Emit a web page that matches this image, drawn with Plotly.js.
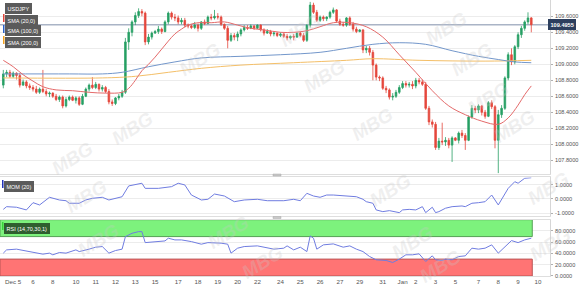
<!DOCTYPE html>
<html>
<head>
<meta charset="utf-8">
<script src="https://cdn.plot.ly/plotly-3.0.1.min.js"></script>
<style>
  html, body { margin: 0; padding: 0; background: #ffffff; }
  #chart { width: 580px; height: 288px; }
</style>
</head>
<body>
<div id="chart"></div>
<script>
// USD/JPY 4-hour candles, 4 Dec 2019 – 9 Jan 2020
const symbol = 'USDJPY';
const open = [108.74,108.88,108.90,108.85,108.89,108.86,108.74,108.78,108.73,108.71,
  108.69,108.65,108.69,108.66,108.63,108.64,108.60,108.56,108.59,108.48,
  108.56,108.59,108.55,108.58,108.50,108.60,108.69,108.74,108.71,108.75,
  108.69,108.71,108.66,108.53,108.51,108.58,108.60,108.65,109.28,109.40,
  109.53,109.61,109.66,109.64,109.28,109.34,109.39,109.41,109.44,109.41,
  109.53,109.64,109.59,109.58,109.53,109.55,109.49,109.48,109.46,109.49,
  109.45,109.53,109.51,109.59,109.58,109.60,109.59,109.50,109.45,109.30,
  109.36,109.34,109.38,109.43,109.46,109.45,109.48,109.45,109.49,109.43,
  109.39,109.41,109.38,109.39,109.36,109.38,109.35,109.33,109.35,109.34,
  109.39,109.36,109.30,109.49,109.74,109.65,109.55,109.59,109.57,109.59,
  109.65,109.68,109.54,109.50,109.49,109.58,109.50,109.44,109.41,109.43,
  109.18,109.20,109.15,108.99,108.84,108.83,108.70,108.68,108.59,108.60,
  108.65,108.71,108.76,108.74,108.75,108.73,108.80,108.78,108.75,108.45,
  108.28,108.25,107.96,108.04,108.03,108.05,107.99,108.08,108.05,108.14,
  108.11,108.05,108.34,108.45,108.43,108.48,108.40,108.35,108.52,108.47,
  108.05,108.37,108.45,108.83,109.12,109.03,109.22,109.37,109.45,109.53,
  109.58];
const high = [108.93,108.93,108.93,108.91,108.90,108.89,108.81,108.80,108.76,108.74,
  108.73,108.71,108.93,108.69,108.66,108.65,108.63,108.61,108.61,108.59,
  108.61,108.61,108.60,108.60,108.63,108.71,108.76,108.84,108.78,108.76,
  108.74,108.73,108.69,108.56,108.59,108.63,108.68,109.33,109.45,109.55,
  109.65,109.70,109.69,109.66,109.38,109.41,109.43,109.48,109.46,109.55,
  109.66,109.66,109.63,109.61,109.58,109.58,109.51,109.50,109.53,109.51,
  109.54,109.56,109.61,109.63,109.68,109.64,109.61,109.51,109.48,109.39,
  109.39,109.41,109.45,109.49,109.49,109.50,109.49,109.50,109.50,109.45,
  109.44,109.43,109.41,109.40,109.40,109.39,109.38,109.36,109.38,109.40,
  109.41,109.39,109.50,109.78,109.77,109.68,109.61,109.61,109.60,109.67,
  109.71,109.69,109.57,109.53,109.59,109.60,109.53,109.47,109.44,109.44,
  109.23,109.23,109.18,109.01,108.86,108.85,108.73,108.70,108.64,108.68,
  108.74,108.79,108.79,108.78,108.79,108.83,108.83,108.81,108.78,108.48,
  108.31,108.28,108.08,108.27,108.09,108.08,108.10,108.09,108.16,108.18,
  108.14,108.36,108.49,108.48,108.50,108.49,108.43,108.54,108.55,108.49,
  108.43,108.49,108.85,109.15,109.20,109.24,109.40,109.48,109.55,109.65,
  109.59];
const low = [108.70,108.84,108.83,108.83,108.81,108.71,108.73,108.70,108.68,108.66,
  108.63,108.63,108.64,108.60,108.59,108.58,108.54,108.53,108.45,108.46,
  108.54,108.54,108.51,108.48,108.49,108.59,108.66,108.69,108.69,108.66,
  108.66,108.64,108.50,108.48,108.49,108.55,108.58,108.63,109.18,109.35,
  109.49,109.58,109.60,109.24,109.25,109.31,109.38,109.38,109.38,109.40,
  109.50,109.56,109.54,109.50,109.50,109.46,109.45,109.44,109.44,109.41,
  109.43,109.49,109.50,109.55,109.56,109.56,109.48,109.43,109.20,109.28,
  109.30,109.29,109.35,109.41,109.43,109.44,109.43,109.44,109.41,109.36,
  109.38,109.35,109.35,109.34,109.34,109.33,109.30,109.31,109.30,109.33,
  109.34,109.28,109.28,109.46,109.63,109.53,109.53,109.54,109.54,109.57,
  109.63,109.52,109.48,109.47,109.47,109.48,109.41,109.39,109.40,109.14,
  109.14,109.11,108.80,108.80,108.79,108.68,108.64,108.56,108.55,108.58,
  108.63,108.69,108.71,108.71,108.69,108.70,108.75,108.73,108.43,108.24,
  108.21,107.93,107.93,107.99,107.98,107.95,107.78,108.04,108.01,108.08,
  107.93,108.04,108.32,108.39,108.39,108.36,108.32,108.34,108.44,107.95,
  107.64,108.33,108.43,108.80,108.99,109.00,109.19,109.33,109.42,109.50,
  109.40];
const close = [108.88,108.90,108.85,108.89,108.86,108.74,108.78,108.73,108.71,108.69,
  108.65,108.69,108.66,108.63,108.64,108.60,108.56,108.59,108.48,108.56,
  108.59,108.55,108.58,108.50,108.60,108.69,108.74,108.71,108.75,108.69,
  108.71,108.66,108.53,108.51,108.58,108.60,108.65,109.28,109.40,109.53,
  109.61,109.66,109.64,109.28,109.34,109.39,109.41,109.44,109.41,109.53,
  109.64,109.59,109.58,109.53,109.55,109.49,109.48,109.46,109.49,109.45,
  109.53,109.51,109.59,109.58,109.60,109.59,109.50,109.45,109.30,109.36,
  109.34,109.38,109.43,109.46,109.45,109.48,109.45,109.49,109.43,109.39,
  109.41,109.38,109.39,109.36,109.38,109.35,109.33,109.35,109.34,109.39,
  109.36,109.30,109.49,109.74,109.65,109.55,109.59,109.57,109.59,109.65,
  109.68,109.54,109.50,109.49,109.58,109.50,109.44,109.41,109.43,109.18,
  109.20,109.15,108.99,108.84,108.83,108.70,108.68,108.59,108.60,108.65,
  108.71,108.76,108.74,108.75,108.73,108.80,108.78,108.75,108.45,108.28,
  108.25,107.96,108.04,108.03,108.05,107.99,108.08,108.05,108.14,108.11,
  108.05,108.34,108.45,108.43,108.48,108.40,108.35,108.52,108.47,108.05,
  108.37,108.45,108.83,109.12,109.03,109.22,109.37,109.45,109.53,109.58,
  109.4955];

// Moving averages, sampled at candle positions
const sma20Idx = [0,3,6,9,12,16,21,26,31,36,38,40,42,44,46,48,50,52,54,56,59,63,67,71,75,79,84,88,92,96,100,105,110,115,120,125,130,135,140,145,150,153,156,158,160];
const sma20 = [109.05,108.97,108.87,108.79,108.72,108.68,108.67,108.65,108.64,108.65,108.70,108.80,108.92,109.00,109.09,109.19,109.29,109.38,109.44,109.49,109.52,109.52,109.53,109.49,109.45,109.43,109.40,109.40,109.42,109.47,109.52,109.52,109.47,109.34,109.12,108.90,108.67,108.48,108.37,108.29,108.25,108.33,108.49,108.62,108.73];
const sma100Idx = [0,20,30,36,44,52,60,72,84,96,104,112,120,128,136,144,150,155,160];
const sma100 = [108.88,108.88,108.88,108.90,108.97,109.03,109.08,109.10,109.12,109.15,109.20,109.25,109.27,109.25,109.17,109.10,109.06,109.03,109.02];
const sma200Idx = [0,30,40,50,60,72,88,104,112,126,146,160];
const sma200 = [108.83,108.83,108.85,108.90,108.95,108.99,109.02,109.05,109.07,109.05,109.04,109.05];

// Momentum (20)
const momIdx = [0,1,4,6,7,9,11,14,17,19,20,23,25,27,30,32,33,36,38,40,42,43,47,51,53,55,57,59,60,62,64,67,70,73,77,80,85,88,90,92,94,96,98,100,103,105,107,109,110,112,113,115,117,120,121,123,125,127,128,130,131,132,134,136,139,140,142,144,146,148,150,153,155,156,158,160];
const momVal = [-0.73,-0.54,-0.58,-0.73,-0.77,-0.26,-0.42,0.12,-0.07,-0.12,-0.30,-0.30,-0.07,0.05,0.12,-0.07,-0.02,0.16,0.92,0.99,1.11,0.75,0.75,0.87,1.11,0.99,0.28,0.05,-0.07,-0.02,0.35,0.21,-0.19,-0.07,-0.02,-0.12,-0.12,-0.02,-0.12,0.40,0.21,0.12,0.28,0.28,0.21,0.16,0.16,-0.02,-0.19,-0.30,-0.77,-0.89,-0.82,-0.96,-0.77,-0.73,-0.77,-0.54,-0.96,-0.58,-0.96,-0.89,-0.65,-0.54,-0.49,-0.54,-0.30,-0.26,-0.19,0.28,-0.42,0.75,1.22,1.11,1.46,1.50];

// RSI (14)
const rsiIdx = [0,1,4,6,8,10,12,14,15,17,19,22,23,26,28,30,32,34,36,37,39,41,42,43,46,49,50,52,54,57,60,62,66,68,69,71,73,77,79,82,85,86,88,90,92,93,94,95,97,100,103,105,107,109,111,113,116,118,120,122,124,126,128,130,131,133,134,136,138,140,142,144,146,148,150,152,154,156,158,160];
const rsiVal = [40.6,46.4,47.7,45.2,43.4,40.6,38.8,40.6,37.6,41.7,40.6,46.4,43.4,47.7,51.2,52.3,40.6,45.2,47.7,69.9,75.9,78.8,78.8,59.3,61.1,62.3,67.1,64.1,64.1,61.1,56.5,59.3,58.3,56.5,40.6,49.4,52.3,53.5,51.2,47.7,49.4,53.5,46.4,51.2,43.4,71.2,67.1,47.7,55.3,57.0,51.2,53.5,47.7,43.4,34.6,28.8,27.6,24.0,30.0,37.6,37.6,39.4,25.8,35.8,28.8,27.6,30.0,28.8,34.6,35.8,49.4,47.7,49.4,55.3,40.6,52.3,62.9,59.3,64.1,67.1];

// Axis labels
const tickIdx = [3,9,15,22,28,34,40,46,53,59,65,71,77,84,90,96,102,108,115,121,125,131,137,144,150,156,162];
const tickText = ['Dec 5','6','8','10','11','12','13','15','17','18','19','20','22','24','25','26','27','29','31','Jan','2','3','5','7','8','9','10'];
const priceTicks = [107.8,108.0,108.2,108.4,108.6,108.8,109.0,109.2,109.4,109.6];
const momTicks = [-1,0,1];
const rsiTicks = [0,20,40,60,80];

// ---------------------------------------------------------------
const FONT = 'Liberation Sans, Arial, sans-serif';
const idx = close.map((_, i) => i);
const lastI = close.length - 1;
const lastClose = close[lastI];
const X_RANGE = [-1, 165.67];

const W = 550, H = 276;            // plot area in pixels
const px = v => v / W;             // pixel -> paper x
const py = v => 1 - v / H;         // pixel -> paper y

const traces = [
  {
    type: 'candlestick', x: idx, open: open, high: high, low: low, close: close,
    xaxis: 'x', yaxis: 'y', whiskerwidth: 0, hoverinfo: 'skip', showlegend: false,
    increasing: { line: { color: '#27a064', width: 0.8 }, fillcolor: '#27a064' },
    decreasing: { line: { color: '#e5473c', width: 0.8 }, fillcolor: '#e5473c' }
  },
  { type: 'scatter', mode: 'lines', x: sma200Idx, y: sma200, xaxis: 'x', yaxis: 'y',
    line: { color: '#f4bf68', width: 1, shape: 'spline' }, hoverinfo: 'skip' },
  { type: 'scatter', mode: 'lines', x: sma100Idx, y: sma100, xaxis: 'x', yaxis: 'y',
    line: { color: '#7397cb', width: 1, shape: 'spline' }, hoverinfo: 'skip' },
  { type: 'scatter', mode: 'lines', x: sma20Idx, y: sma20, xaxis: 'x', yaxis: 'y',
    line: { color: '#e46a6a', width: 1, shape: 'spline' }, hoverinfo: 'skip' },
  { type: 'scatter', mode: 'lines', x: momIdx, y: momVal, xaxis: 'x2', yaxis: 'y2',
    line: { color: '#6f7ce0', width: 1 }, hoverinfo: 'skip' },
  { type: 'scatter', mode: 'lines', x: rsiIdx, y: rsiVal, xaxis: 'x3', yaxis: 'y3',
    line: { color: '#6f7ce0', width: 1 }, hoverinfo: 'skip' }
];

const xBase = {
  range: X_RANGE, showgrid: false, zeroline: false, showline: true,
  linecolor: '#dedede', mirror: true, ticks: '', showticklabels: false, fixedrange: true
};
const yBase = {
  side: 'right', zeroline: false, showline: true, linecolor: '#d6d6d6', mirror: true,
  ticks: 'outside', ticklen: 2, tickcolor: '#b0b0b0', gridcolor: '#ececec',
  tickfont: { size: 5.6, color: '#555' }, ticklabelstandoff: 1, fixedrange: true
};

const shapes = [
  // RSI overbought / oversold zones
  { type: 'rect', xref: 'x3', yref: 'y3', x0: X_RANGE[0], x1: lastI + 0.3, y0: 70, y1: 100,
    fillcolor: '#7df27d', line: { color: '#55a055', width: 1 }, layer: 'between' },
  { type: 'rect', xref: 'x3', yref: 'y3', x0: X_RANGE[0], x1: lastI + 0.3, y0: 0, y1: 30,
    fillcolor: '#ff7474', line: { color: '#bb5555', width: 1 }, layer: 'between' },
  // last price line
  { type: 'line', xref: 'paper', yref: 'y', x0: 0, x1: 1, y0: lastClose, y1: lastClose,
    line: { color: '#aab4c6', width: 1.5 }, layer: 'between' },
  // colour keys of the indicator labels
  { type: 'rect', xref: 'paper', yref: 'paper', x0: px(3), x1: px(4.5), y0: py(22), y1: py(14), fillcolor: '#e0453a', line: { width: 0 } },
  { type: 'rect', xref: 'paper', yref: 'paper', x0: px(3), x1: px(4.5), y0: py(33), y1: py(25), fillcolor: '#2a62c8', line: { width: 0 } },
  { type: 'rect', xref: 'paper', yref: 'paper', x0: px(3), x1: px(4.5), y0: py(44), y1: py(36), fillcolor: '#f0a020', line: { width: 0 } },
  { type: 'rect', xref: 'paper', yref: 'paper', x0: px(2), x1: px(3.5), y0: py(188), y1: py(180), fillcolor: '#2233bb', line: { width: 0 } },
  { type: 'rect', xref: 'paper', yref: 'paper', x0: px(2), x1: px(3.5), y0: py(230), y1: py(222), fillcolor: '#3ad13a', line: { width: 0 } },
  // pane splitter grips
  { type: 'rect', xref: 'paper', yref: 'paper', x0: px(273), x1: px(281), y0: py(176), y1: py(174), fillcolor: '#c8c8c8', line: { color: '#a8a8a8', width: 0.5 } },
  { type: 'rect', xref: 'paper', yref: 'paper', x0: px(273), x1: px(281), y0: py(218.5), y1: py(216.5), fillcolor: '#c8c8c8', line: { color: '#a8a8a8', width: 0.5 } }
];

function tag(text, x, y, bg) {
  return {
    xref: 'paper', yref: 'paper', x: px(x), y: py(y), xanchor: 'left', yanchor: 'top',
    text: text, showarrow: false, bgcolor: bg, bordercolor: bg, borderpad: 1.5,
    font: { family: FONT, size: 5.5, color: '#ffffff' }
  };
}

const annotations = [
  tag(symbol, 5, 3.5, '#5b5b5b'),
  tag('SMA (20,0)', 5, 14.5, '#5b5b5b'),
  tag('SMA (100,0)', 5, 25.5, '#5b5b5b'),
  tag('SMA (200,0)', 5, 36.5, '#5b5b5b'),
  tag('MOM (20)', 4, 180.5, '#5b5b5b'),
  tag('RSI (14,70,30,1)', 4, 222.5, '#2f5e2f'),
  {
    xref: 'paper', yref: 'y', x: px(548), y: lastClose, xanchor: 'left', yanchor: 'middle',
    text: '<b>' + lastClose.toFixed(4) + '</b>', showarrow: false,
    bgcolor: '#2d3f5e', bordercolor: '#2d3f5e', borderpad: 1.5,
    font: { family: FONT, size: 5.6, color: '#ffffff' }
  }
];

// faint brand marks across the panes
const marks = [[72,158],[132,128],[86,196],[98,240],[228,232],[262,262],[300,30],[324,76],[390,190],[412,242],[446,28],[472,60],[488,98],[372,124],[514,126],[548,188],[550,244],[440,266],[200,60]];
marks.forEach(([mx, my]) => annotations.push({
  xref: 'paper', yref: 'paper', x: px(mx), y: py(my), xanchor: 'center', yanchor: 'middle',
  text: '<b><i>MBG</i></b>', showarrow: false, textangle: -32,
  font: { family: FONT, size: 19, color: 'rgba(200,200,200,0.28)' }
}));

const layout = {
  width: 580, height: 288,
  margin: { l: 0, r: 30, t: 0, b: 12, pad: 0 },
  paper_bgcolor: '#ffffff', plot_bgcolor: '#ffffff',
  showlegend: false,
  font: { family: FONT, size: 6.5, color: '#555' },
  xaxis: Object.assign({}, xBase, { anchor: 'y', rangeslider: { visible: false } }),
  xaxis2: Object.assign({}, xBase, { anchor: 'y2', matches: 'x' }),
  xaxis3: Object.assign({}, xBase, {
    anchor: 'y3', matches: 'x', showticklabels: true,
    tickmode: 'array', tickvals: tickIdx, ticktext: tickText,
    tickfont: { size: 6.2, color: '#555' }
  }),
  yaxis: Object.assign({}, yBase, {
    anchor: 'x', domain: [0.3696, 1], range: [107.629, 109.804],
    tickmode: 'array', tickvals: priceTicks, tickformat: '.4f'
  }),
  yaxis2: Object.assign({}, yBase, {
    anchor: 'x2', domain: [0.2174, 0.3569], range: [-1.197, 1.514],
    tickmode: 'array', tickvals: momTicks, ticktext: momTicks.map(v => v.toFixed(4))
  }),
  yaxis3: Object.assign({}, yBase, {
    anchor: 'x3', domain: [0, 0.204], range: [0, 100],
    tickmode: 'array', tickvals: rsiTicks, tickformat: '.4f'
  }),
  shapes: shapes,
  annotations: annotations
};

Plotly.newPlot('chart', traces, layout, { staticPlot: true, displayModeBar: false });
</script>
</body>
</html>
